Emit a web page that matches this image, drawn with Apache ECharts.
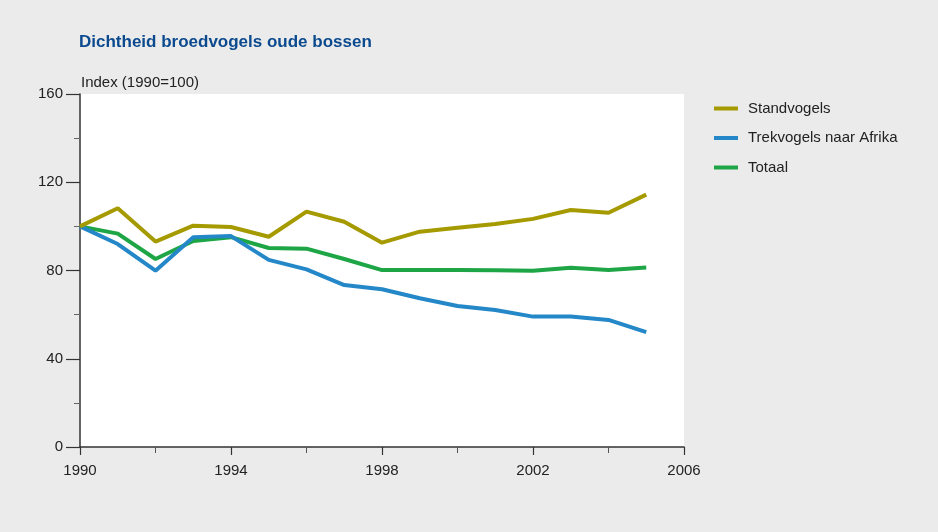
<!DOCTYPE html>
<html>
<head>
<meta charset="utf-8">
<script src="https://cdn.jsdelivr.net/npm/echarts@6/dist/echarts.min.js"></script>
<style>
  html, body { margin: 0; padding: 0; background: #ebebeb; }
  #chart { width: 938px; height: 532px; }
</style>
</head>
<body>
<div id="chart"></div>
<script>
// Index of breeding bird density in old forests (1990 = 100)
const years = [1990, 1991, 1992, 1993, 1994, 1995, 1996, 1997, 1998, 1999, 2000, 2001, 2002, 2003, 2004, 2005];
const standvogels = [100, 108.2, 93.1, 100.3, 99.7, 95.3, 106.7, 102.1, 92.6, 97.6, 99.4, 101.1, 103.4, 107.4, 106.2, 114.4];
const trekvogels = [100, 92.0, 79.9, 95.1, 95.6, 84.8, 80.5, 73.4, 71.5, 67.4, 63.9, 62.1, 59.1, 59.1, 57.6, 52.1];
const totaal = [100, 96.7, 85.2, 93.4, 95.1, 90.2, 89.9, 85.2, 80.2, 80.2, 80.2, 80.1, 79.9, 81.3, 80.2, 81.4];

const seriesNames = ['Standvogels', 'Trekvogels naar Afrika', 'Totaal'];
const seriesColors = ['#a59a00', '#2488c8', '#1ea646'];
const seriesData = [standvogels, trekvogels, totaal];

const font = '"Liberation Sans", Arial, sans-serif';
const chart = echarts.init(document.getElementById('chart'));

chart.setOption({
  backgroundColor: '#ebebeb',
  animation: false,
  title: {
    text: 'Dichtheid broedvogels oude bossen',
    left: 79,
    top: 34,
    padding: 0,
    textStyle: { fontFamily: font, fontSize: 17, fontWeight: 'bold', color: '#0b4a8e' }
  },
  legend: {
    orient: 'vertical',
    left: 714,
    top: 100,
    padding: 0,
    itemWidth: 24,
    itemHeight: 4,
    itemGap: 12.5,
    icon: 'rect',
    textStyle: { fontFamily: font, fontSize: 15, color: '#222', lineHeight: 17, padding: [0, 0, 0, 5] },
    data: seriesNames
  },
  grid: { left: 80, top: 94, right: 254, bottom: 85, show: true, backgroundColor: '#ffffff', borderWidth: 0 },
  xAxis: {
    type: 'value',
    min: 1990,
    max: 2006,
    interval: 4,
    axisLine: { lineStyle: { color: '#333', width: 1.5 } },
    axisTick: { show: true, length: 8, lineStyle: { color: '#333', width: 1.2 } },
    minorTick: { show: true, splitNumber: 2, length: 6, lineStyle: { color: '#555', width: 1 } },
    splitLine: { show: false },
    axisLabel: { fontFamily: font, fontSize: 15, color: '#222', margin: 16, formatter: v => String(v) }
  },
  yAxis: {
    type: 'value',
    min: 0,
    max: 160,
    interval: 40,
    name: 'Index (1990=100)',
    nameLocation: 'end',
    nameGap: 4,
    nameTextStyle: { fontFamily: font, fontSize: 15, color: '#222', align: 'left', padding: [0, 0, 0, 1] },
    axisLine: { show: true, lineStyle: { color: '#333', width: 1.5 } },
    axisTick: { show: true, length: 14, lineStyle: { color: '#333', width: 1.2 } },
    minorTick: { show: true, splitNumber: 2, length: 6, lineStyle: { color: '#666', width: 1 } },
    splitLine: { show: false },
    axisLabel: { fontFamily: font, fontSize: 15, color: '#222', margin: 17 }
  },
  series: seriesNames.map((name, i) => ({
    name: name,
    type: 'line',
    data: years.map((y, j) => [y, seriesData[i][j]]),
    symbol: 'none',
    color: seriesColors[i],
    lineStyle: { width: 4, color: seriesColors[i] },
    z: 3 - i
  }))
});
</script>
</body>
</html>
